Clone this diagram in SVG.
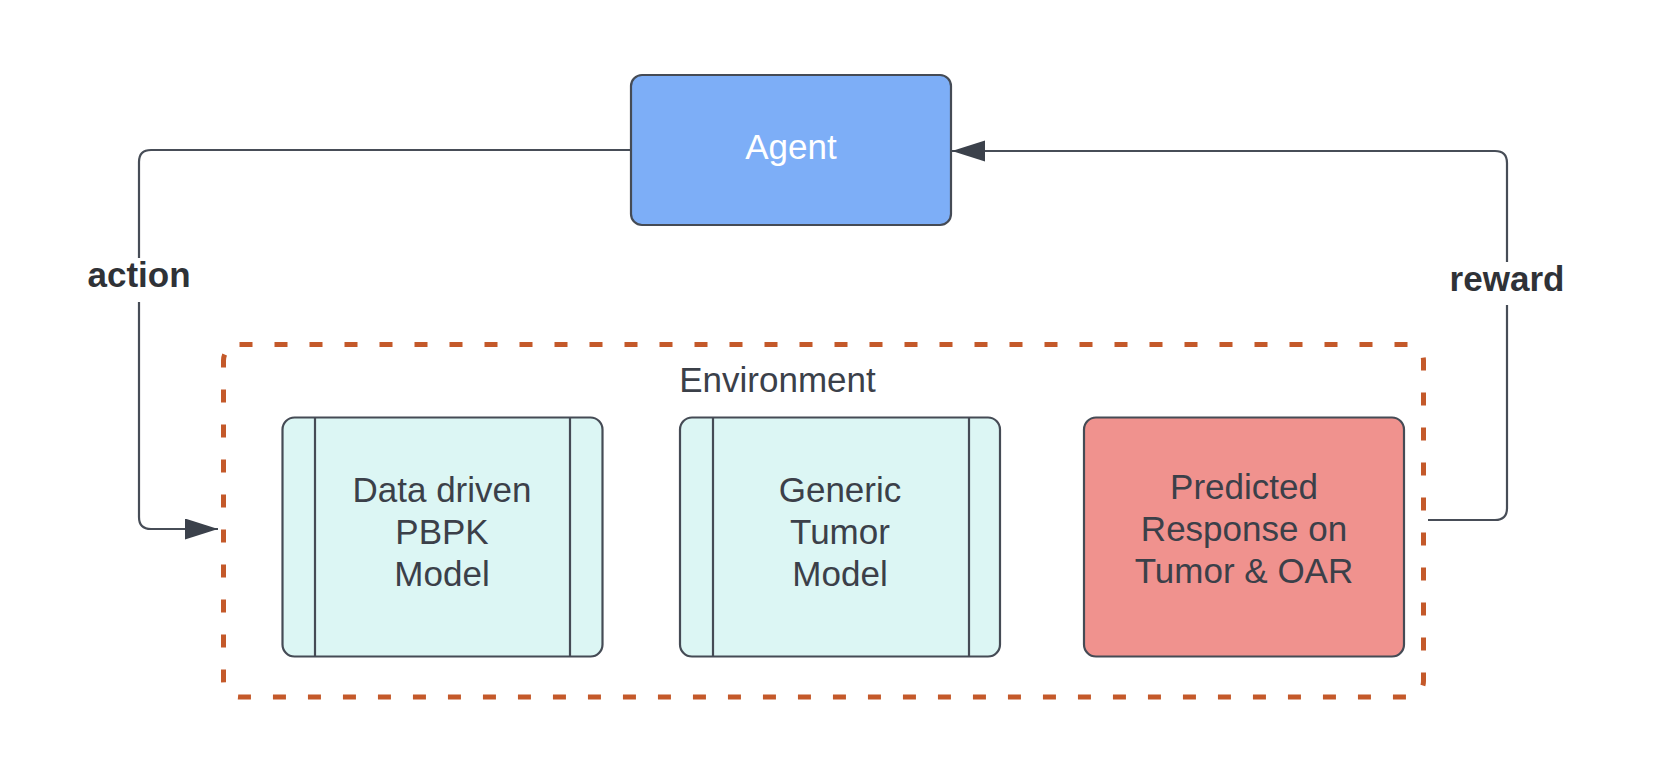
<svg xmlns="http://www.w3.org/2000/svg" width="1660" height="758" viewBox="0 0 1660 758">
<defs>
<style>
.box{stroke:#454b55;stroke-width:2.2}
.t{font-family:"Liberation Sans",Arial,sans-serif;font-size:35px;fill:#3b4049;text-anchor:middle}
.lbl{font-family:"Liberation Sans",Arial,sans-serif;font-size:35px;font-weight:bold;fill:#2f3237;text-anchor:middle}
.conn{fill:none;stroke:#474d57;stroke-width:2.2}
</style>
<marker id="arr" markerUnits="userSpaceOnUse" markerWidth="34" markerHeight="22" refX="33" refY="10.5" orient="auto">
<path d="M0,0 L33,10.5 L0,21 Z" fill="#3b414b"/>
</marker>
</defs>
<rect width="1660" height="758" fill="#ffffff"/>
<g id="environment">
<rect x="223.5" y="344.5" width="1200" height="352.5" rx="16" fill="none" stroke="#c4592a" stroke-width="5" stroke-dasharray="13 22"/>
<text class="t" x="777.5" y="391.5">Environment</text>
</g>
<g id="connectors">
<path class="conn" d="M630,150 H151 Q139,150 139,162 V517 Q139,529 151,529 H218" marker-end="url(#arr)"/>
<path class="conn" d="M1428,520 H1495 Q1507,520 1507,508 V163 Q1507,151 1495,151 H952" marker-end="url(#arr)"/>
<rect x="80" y="258" width="120" height="44" fill="#ffffff"/>
<text class="lbl" x="139" y="287">action</text>
<rect x="1442" y="262" width="130" height="43" fill="#ffffff"/>
<text class="lbl" x="1507" y="291">reward</text>
</g>
<g id="agent">
<rect class="box" x="631" y="75" width="320" height="150" rx="11" fill="#7daef7"/>
<text class="t" x="791" y="159" style="fill:#ffffff">Agent</text>
</g>
<g id="pbpk">
<rect class="box" x="282.5" y="417.5" width="320" height="239" rx="12" fill="#dcf6f4"/>
<line class="box" x1="315" y1="417.5" x2="315" y2="656.5"/>
<line class="box" x1="570" y1="417.5" x2="570" y2="656.5"/>
<text class="t" x="442" y="502">Data driven</text>
<text class="t" x="442" y="543.5">PBPK</text>
<text class="t" x="442" y="586">Model</text>
</g>
<g id="tumor">
<rect class="box" x="680" y="417.5" width="320" height="239" rx="12" fill="#dcf6f4"/>
<line class="box" x1="713" y1="417.5" x2="713" y2="656.5"/>
<line class="box" x1="969" y1="417.5" x2="969" y2="656.5"/>
<text class="t" x="840" y="502">Generic</text>
<text class="t" x="840" y="543.5">Tumor</text>
<text class="t" x="840" y="586">Model</text>
</g>
<g id="response">
<rect class="box" x="1084" y="417.5" width="320" height="239" rx="12" fill="#f0928e"/>
<text class="t" x="1244" y="498.5">Predicted</text>
<text class="t" x="1244" y="540.5">Response on</text>
<text class="t" x="1244" y="583">Tumor &amp; OAR</text>
</g>
</svg>
